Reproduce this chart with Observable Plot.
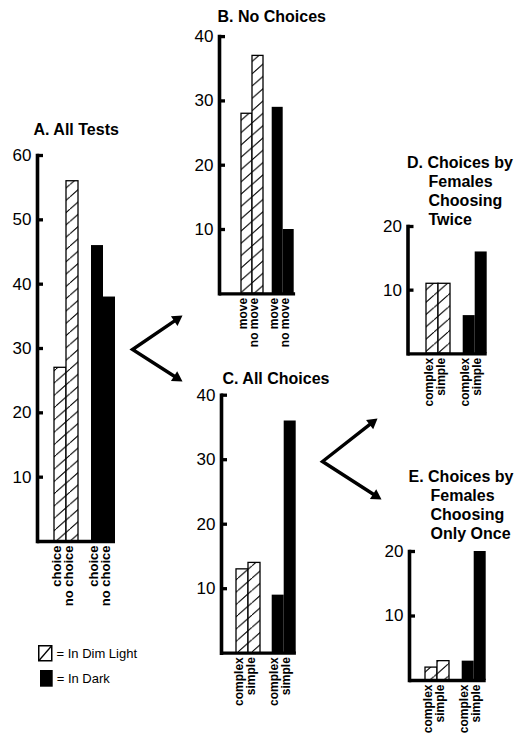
<!DOCTYPE html>
<html>
<head>
<meta charset="utf-8">
<script src="https://cdn.jsdelivr.net/npm/d3@7"></script>
<script src="https://cdn.jsdelivr.net/npm/@observablehq/plot@0.6"></script>
<style>
  body { margin: 0; background: #fff; }
  #chart { position: relative; width: 515px; height: 737px; overflow: hidden; background: #fff;
           font-family: "Liberation Sans", Arial, Helvetica, sans-serif; color: #000; }
  #chart svg.layer { position: absolute; left: 0; top: 0; }
  .leg { position: absolute; font-size: 13px; line-height: 17px; white-space: nowrap; }
</style>
</head>
<body>
<div id="chart"></div>
<script>
// ---------------- data ----------------
const catsA = ["choice", "no choice"];
const dimA = [27, 56];
const darkA = [46, 38];
const ticksA = [10, 20, 30, 40, 50, 60];
const titleA = ["A. All Tests"];

const catsB = ["move", "no move"];
const dimB = [28, 37];
const darkB = [29, 10];
const ticksB = [10, 20, 30, 40];
const titleB = ["B. No Choices"];

const catsCDE = ["complex", "simple"];
const dimC = [13, 14];
const darkC = [9, 36];
const ticksC = [10, 20, 30, 40];
const titleC = ["C. All Choices"];

const dimD = [11, 11];
const darkD = [6, 16];
const ticksD = [10, 20];
const titleD = ["D. Choices by", "Females", "Choosing", "Twice"];

const dimE = [2, 3];
const darkE = [3, 20];
const ticksE = [10, 20];
const titleE = ["E. Choices by", "Females", "Choosing", "Only Once"];

const legendLabels = ["= In Dim Light", "= In Dark"];

// ---------------- layout (pixels) ----------------
const W = 515, H = 737;
const FONT = '"Liberation Sans", Arial, Helvetica, sans-serif';
const LH = 18.7;
const layoutA = {axisX: 37, barStart: 54, barW: 12, gap: 13, top: 155, base: 541, catSize: 13, titleDx: -4, titleDy: -21, restDx: 0};
const layoutB = {axisX: 219, barStart: 240, barW: 11.6, gap: 8.7, top: 36.1, base: 293.3, catSize: 12, titleDx: -2, titleDy: -15, restDx: 0};
const layoutC = {axisX: 221, barStart: 235, barW: 12.3, gap: 11.7, top: 394.7, base: 652.7, catSize: 12, titleDx: 1, titleDy: -11.7, restDx: 0};
const layoutD = {axisX: 407.5, barStart: 426, barW: 12, gap: 12.7, top: 226, base: 353.3, catSize: 12, titleDx: -1, titleDy: -2, restDx: 20.5};
const layoutE = {axisX: 409, barStart: 425, barW: 12, gap: 12.7, top: 551, base: 680, catSize: 12, titleDx: -1, titleDy: -13, restDx: 21};

const connectors = [
  {from: [132, 349], to: [[182, 315], [182, 381]]},
  {from: [322, 461], to: [[377, 418], [381, 499]]}
];

const chart = document.getElementById("chart");

function hatchDefs(id) {
  const w = 14, h = 12.3;
  return `<defs><pattern id="${id}" patternUnits="userSpaceOnUse" width="${w}" height="${h}">
    <rect width="${w}" height="${h}" fill="white"/>
    <path d="M0,${h}L${w},0M${-w},${h}L0,0M${w},${2*h}L${2*w},${h}" stroke="black" stroke-width="1.1" fill="none"/>
  </pattern></defs>`;
}

function panel(id, cats, dim, dark, ticks, title, L) {
  const yMax = ticks[ticks.length - 1];
  const dimRows = cats.map((c, i) => ({key: "dim" + i, cat: c, v: dim[i]}));
  const darkRows = cats.map((c, i) => ({key: "dark" + i, cat: c, v: dark[i]}));
  const keys = [...dimRows, ...darkRows].map(d => d.key);
  const end = L.barStart + 4 * L.barW + L.gap;
  const hatchId = "hatch" + id;
  const catOpts = {x: "key", text: "cat", frameAnchor: "bottom", rotate: -90, textAnchor: "end",
                   dy: 4, fontSize: L.catSize, fontWeight: "bold"};
  const titleOpts = {text: d => d, frameAnchor: "top-left", textAnchor: "start", lineAnchor: "bottom",
                     fontSize: 16, fontWeight: "bold"};
  const marks = [
    Plot.barY(dimRows, {x: "key", y: "v", fill: `url(#${hatchId})`, stroke: "black", strokeWidth: 1.3}),
    Plot.barY(darkRows, {x: "key", y: "v", fill: "black", dx: L.gap}),
    Plot.ruleY([0], {strokeWidth: 3.3}),
    Plot.frame({anchor: "left", strokeWidth: 3.6, strokeLinecap: "square"}),
    Plot.axisY({ticks, tickSize: -6, tickPadding: 12, strokeWidth: 3.3, fontSize: 17, label: null, tickFormat: d => String(d)}),
    Plot.text(dimRows, catOpts),
    Plot.text(darkRows, {...catOpts, dx: L.gap}),
    Plot.text([title[0]], {...titleOpts, dx: L.titleDx, dy: L.titleDy - (title.length - 1) * LH})
  ];
  if (title.length > 1) {
    marks.push(Plot.text([title.slice(1).join("\n")], {...titleOpts, dx: L.restDx, dy: L.titleDy, lineHeight: LH / 16}));
  }
  const svg = Plot.plot({
    width: W, height: H,
    marginLeft: L.axisX, marginRight: W - end, marginTop: L.top, marginBottom: H - L.base,
    style: {background: "transparent", fontFamily: FONT, overflow: "visible", color: "black"},
    x: {type: "band", domain: keys, range: [L.barStart, L.barStart + 4 * L.barW], padding: 0, axis: null},
    y: {domain: [0, yMax], label: null},
    marks
  });
  svg.insertAdjacentHTML("afterbegin", hatchDefs(hatchId));
  svg.classList.add("layer");
  chart.appendChild(svg);
}

panel("A", catsA, dimA, darkA, ticksA, titleA, layoutA);
panel("B", catsB, dimB, darkB, ticksB, titleB, layoutB);
panel("C", catsCDE, dimC, darkC, ticksC, titleC, layoutC);
panel("D", catsCDE, dimD, darkD, ticksD, titleD, layoutD);
panel("E", catsCDE, dimE, darkE, ticksE, titleE, layoutE);

// ---------------- arrows ----------------
const headLen = 10;
const linePts = [], heads = [];
connectors.forEach((c, ci) => {
  const [vx, vy] = c.from;
  const ends = c.to.map(([tx, ty]) => {
    const dx = tx - vx, dy = ty - vy, len = Math.hypot(dx, dy);
    const ux = dx / len, uy = dy / len;
    heads.push({x: tx - ux * headLen * 2 / 3, y: ty - uy * headLen * 2 / 3,
                angle: Math.atan2(ux, -uy) * 180 / Math.PI});
    return {x: tx - ux * headLen * 0.6, y: ty - uy * headLen * 0.6};
  });
  linePts.push({id: ci, ...ends[0]}, {id: ci, x: vx, y: vy}, {id: ci, ...ends[1]});
});
const arrowSvg = Plot.plot({
  width: W, height: H, margin: 0,
  style: {background: "transparent", overflow: "visible"},
  x: {domain: [0, W], range: [0, W], axis: null},
  y: {domain: [0, H], range: [0, H], axis: null},
  marks: [
    Plot.line(linePts, {x: "x", y: "y", z: "id", stroke: "black", strokeWidth: 3.4, strokeLinejoin: "miter", strokeMiterlimit: 10}),
    Plot.dot(heads, {x: "x", y: "y", rotate: "angle", symbol: "triangle", r: 4.3, fill: "black", stroke: null})
  ]
});
arrowSvg.classList.add("layer");
chart.appendChild(arrowSvg);

// ---------------- legend ----------------
const legPos = [{x: 38, y: 645, w: 14.5, h: 16.5, kind: "dim"}, {x: 40, y: 670, w: 12.7, h: 16.7, kind: "dark"}];
legPos.forEach((p, i) => {
  const sw = document.createElement("div");
  sw.style.cssText = `position:absolute;left:${p.x}px;top:${p.y}px;width:${p.w}px;height:${p.h}px;`;
  sw.innerHTML = p.kind === "dim"
    ? `<svg width="${p.w}" height="${p.h}"><rect x="0.75" y="0.75" width="${p.w - 1.5}" height="${p.h - 1.5}" fill="white" stroke="black" stroke-width="1.5"/><line x1="1" y1="${p.h - 1}" x2="${p.w - 1}" y2="1" stroke="black" stroke-width="1.3"/></svg>`
    : `<svg width="${p.w}" height="${p.h}"><rect width="${p.w}" height="${p.h}" fill="black"/></svg>`;
  chart.appendChild(sw);
  const t = document.createElement("div");
  t.className = "leg";
  t.style.left = (p.x + p.w + 4) + "px";
  t.style.top = (p.y - 0.5) + "px";
  t.textContent = legendLabels[i];
  chart.appendChild(t);
});
</script>
</body>
</html>
